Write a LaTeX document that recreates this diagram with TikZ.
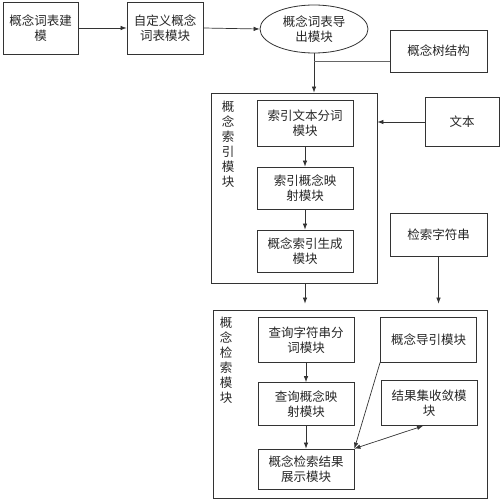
\documentclass[tikz,border=0pt]{standalone}
\usepackage{fontspec}
\setmainfont{Noto Sans CJK SC}
\usetikzlibrary{arrows.meta,shapes.geometric}
\begin{document}
\begin{tikzpicture}[x=1pt,y=-1pt,
  every node/.style={font=\fontsize{12.5}{15}\selectfont, align=center, inner sep=0pt, text=black!85},
  box/.style={draw=black!80, line width=0.8pt, rectangle},
  outer/.style={draw=black!80, line width=0.8pt, rectangle},
  ln/.style={draw=black!80, line width=0.7pt},
  arr/.style={ln, -{Latex[length=6pt,width=4.5pt]}},
  darr/.style={ln, {Latex[length=6pt,width=4.5pt]}-{Latex[length=6pt,width=4.5pt]}}]
\useasboundingbox (0,0) rectangle (500,500);
% top row
\node[box, minimum width=75, minimum height=52] (b1) at (40.5,28) {概念词表建\\模};
\node[box, minimum width=76, minimum height=52] (b2) at (165,28) {自定义概念\\词表模块};
\node[draw=black!80, line width=0.8pt, ellipse, minimum width=108, minimum height=48] (ell) at (314,29) {概念词表导\\出模块};
\node[box, minimum width=97, minimum height=42] (tree) at (438.5,51) {概念树结构};
% index module
\node[outer, minimum width=166, minimum height=190] (idx) at (294,188) {};
\node (idxlab) at (228,144.5) {概\\念\\索\\引\\模\\块};
\node[box, minimum width=96, minimum height=46] (i1) at (305,123) {索引文本分词\\模块};
\node[box, minimum width=96, minimum height=42] (i2) at (305,188) {索引概念映\\射模块};
\node[box, minimum width=96, minimum height=42] (i3) at (305,251) {概念索引生成\\模块};
\node[box, minimum width=74, minimum height=49] (txt) at (462,122) {文本};
\node[box, minimum width=97, minimum height=43] (qs) at (438.5,234.5) {检索字符串};
% search module
\node[outer, minimum width=274, minimum height=188] (srch) at (350,404) {};
\node (srchlab) at (226,360) {概\\念\\检\\索\\模\\块};
\node[box, minimum width=96, minimum height=45] (s1) at (306,340) {查询字符串分\\词模块};
\node[box, minimum width=96, minimum height=43] (s2) at (306,404) {查询概念映\\射模块};
\node[box, minimum width=96, minimum height=40] (s3) at (306,469) {概念检索结果\\展示模块};
\node[box, minimum width=96, minimum height=45] (g) at (428.5,339.5) {概念导引模块};
\node[box, minimum width=96, minimum height=45] (c) at (429,403) {结果集收敛模\\块};
% connectors
\draw[arr] (b1.east) -- (b2.west);
\draw[arr] (b2.east) -- (ell.west);
\draw[arr] (ell.south) -- (ell.south |- idx.north);
\draw[ln, draw=black!60] ([yshift=-10pt]tree.west) -- ([yshift=-10pt]tree.west -| ell.south);
\draw[arr] (txt.west) -- (txt.west -| idx.east);
\draw[arr] (i1.south) -- (i2.north);
\draw[arr] (i2.south) -- (i3.north);
\draw[arr, shorten >=6pt] (i3.south |- idx.south) -- (i3.south |- srch.north);
\draw[arr, shorten >=6pt] (qs.south) -- (qs.south |- srch.north);
\draw[arr] (s1.south) -- (s2.north);
\draw[arr] (s2.south) -- (s3.north);
\draw[arr] (g.south west) -- (s3.north east);
\draw[darr] (s3.north east) -- ([xshift=-6pt]c.south);
\end{tikzpicture}
\end{document}
